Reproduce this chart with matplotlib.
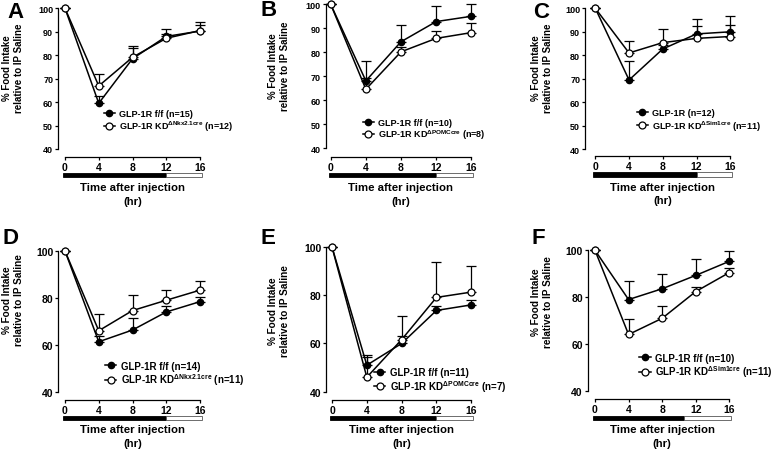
import matplotlib
matplotlib.use('Agg')
import matplotlib.pyplot as plt
from matplotlib.transforms import blended_transform_factory

plt.rcParams['font.family'] = ['Liberation Sans', 'DejaVu Sans']
plt.rcParams['font.weight'] = 'bold'
plt.rcParams['mathtext.fontset'] = 'custom'
plt.rcParams['mathtext.rm'] = 'Liberation Sans'
plt.rcParams['axes.linewidth'] = 0.9

W, H = 774, 452

# data
hours = [0, 4, 8, 12, 16]

a_ff = [100, 59.5, 78.5, 88.0, 90.3]
a_ff_err = [0, 3.0, 4.6, 3.0, 3.9]
a_kd = [100, 66.9, 79.1, 87.2, 90.5]
a_kd_err = [0, 5.1, 4.7, 2.0, 2.4]

b_ff = [100, 68.1, 84.4, 92.8, 95.0]
b_ff_err = [0, 8.2, 7.0, 6.4, 5.2]
b_kd = [100, 64.6, 80.2, 85.8, 88.2]
b_kd_err = [0, 4.9, 2.0, 3.1, 4.0]

c_ff = [100, 69.5, 82.7, 89.1, 90.0]
c_ff_err = [0, 7.9, 1.5, 3.5, 2.9]
c_kd = [100, 81.0, 85.4, 87.2, 88.0]
c_kd_err = [0, 5.0, 5.8, 8.4, 8.9]

d_ff = [100, 61.3, 66.3, 74.0, 78.4]
d_ff_err = [0, 2.3, 5.3, 2.5, 2.0]
d_kd = [100, 66.0, 74.6, 79.0, 83.3]
d_kd_err = [0, 7.3, 6.5, 4.4, 3.8]

e_ff = [100, 51.0, 60.0, 73.7, 76.0]
e_ff_err = [0, 3.3, 3.0, 2.0, 2.0]
e_kd = [100, 46.0, 61.6, 79.1, 81.3]
e_kd_err = [0, 9.4, 9.8, 14.8, 11.0]

f_ff = [100, 79.0, 83.6, 89.3, 95.3]
f_ff_err = [0, 7.7, 6.3, 6.8, 4.2]
f_kd = [100, 64.1, 71.0, 82.4, 90.5]
f_kd_err = [0, 6.6, 5.1, 2.0, 2.0]

ff_labels = ['GLP-1R f/f (n=15)', 'GLP-1R f/f (n=10)', 'GLP-1R (n=12)',
             'GLP-1R f/f (n=14)', 'GLP-1R f/f (n=11)', 'GLP-1R f/f (n=10)']
kd_labels = [r'GLP-1R KD$^{\mathrm{ΔNkx2.1cre}}$ (n=12)',
             r'GLP-1R KD$^{\mathrm{ΔPOMCcre}}$ (n=8)',
             r'GLP-1R KD$^{\mathrm{ΔSim1cre}}$ (n=11)',
             r'GLP-1R KD$^{\mathrm{ΔNkx2.1cre}}$ (n=11)',
             r'GLP-1R KD$^{\mathrm{ΔPOMCcre}}$ (n=7)',
             r'GLP-1R KD$^{\mathrm{ΔSim1cre}}$ (n=11)']
letters = ['A', 'B', 'C', 'D', 'E', 'F']
dark_start = 0
dark_end = [12, 12, 12, 12, 12, 10.6]
light_end = 16

top_yticks = [40, 50, 60, 70, 80, 90, 100]
bottom_yticks = [40, 60, 80, 100]

# layout in pixels: y axis x, x=0, x=16, y=100, y=40, x axis y,
# bar top, bar bottom, time label y, hr y, ylabel x, ylabel y, letter x, letter y, legend x, legend y
layout = [
    (58.0, 65.0, 200.0, 9.3, 150.0, 158.0, 174.0, 178.3, 188.3, 201.7, 13.0, 68.0, 15.0, 12.5, 120.0, 122.0),
    (325.7, 330.7, 471.3, 5.3, 149.3, 158.0, 174.0, 178.3, 188.3, 201.7, 278.7, 66.0, 269.0, 11.0, 378.7, 130.5),
    (585.0, 595.3, 730.3, 9.3, 150.3, 157.3, 173.3, 177.7, 187.7, 201.0, 542.0, 68.0, 541.5, 12.5, 653.0, 121.5),
    (58.3, 65.0, 200.0, 252.0, 392.7, 401.0, 416.5, 420.8, 430.0, 444.0, 13.3, 300.0, 11.0, 238.5, 120.7, 375.0),
    (326.3, 332.0, 471.3, 248.0, 392.7, 401.0, 416.5, 420.8, 430.0, 444.0, 279.0, 311.0, 268.0, 238.5, 389.7, 381.5),
    (587.7, 595.0, 729.3, 251.3, 392.0, 400.0, 416.5, 420.8, 430.0, 444.0, 542.0, 302.0, 538.5, 238.5, 655.3, 367.0),
]


def fx(x):
    return x / W


def fy(y):
    return 1 - y / H


def draw_panel(fig, i, ff, ff_err, kd, kd_err, yticks, small):
    (yax, x0, x16, y100, y40, xaxis, bar_t, bar_b, time_y, hr_y,
     lab_x, lab_y, let_x, let_y, leg_x, leg_y) = layout[i]
    ax = fig.add_axes([fx(yax), fy(y40), fx(x16 - yax), (y40 - y100) / H])
    ax.set_xlim(-16 * (x0 - yax) / (x16 - x0), 16)
    ax.set_ylim(40, 100)
    ax.patch.set_alpha(0)
    for s in ['top', 'right']:
        ax.spines[s].set_visible(False)
    ax.spines['left'].set_bounds(40, 100)
    ax.spines['bottom'].set_bounds(0, 16)
    ax.spines['bottom'].set_position(('outward', (xaxis - y40) * 0.72))
    ax.set_xticks(hours)
    ax.set_yticks(yticks)
    ytick_fs = 6.5 if small else 7.5
    ax.tick_params(axis='y', length=2.5, width=0.9, pad=1, labelsize=ytick_fs)
    ax.tick_params(axis='x', length=2, width=0.9, pad=1.5, labelsize=7.5)

    ax.errorbar(hours, ff, yerr=[[0] * len(ff_err), ff_err], fmt='none', ecolor='black',
                elinewidth=0.9, capsize=3.5, capthick=0.9, clip_on=False, zorder=2)
    ax.errorbar(hours, kd, yerr=[[0] * len(kd_err), kd_err], fmt='none', ecolor='black',
                elinewidth=0.9, capsize=3.5, capthick=0.9, clip_on=False, zorder=2)
    l1, = ax.plot(hours, ff, color='black', lw=1.1, marker='o', ms=4.5, mfc='black',
                  mec='black', clip_on=False, zorder=3)
    l2, = ax.plot(hours, kd, color='black', lw=1.1, marker='o', ms=5, mfc='white',
                  mec='black', mew=0.9, clip_on=False, zorder=4)

    leg_fs = 6.5 if small else 7
    ax.legend([l1, l2], [ff_labels[i], kd_labels[i]], loc='center left',
              bbox_to_anchor=(fx(leg_x - 16), fy(leg_y)), bbox_transform=fig.transFigure,
              frameon=False, borderpad=0, borderaxespad=0, handlelength=1.2,
              handletextpad=0.45, labelspacing=0.1, prop={'size': leg_fs, 'weight': 'bold'})

    # light/dark bar under the x axis
    bar = fig.add_axes([fx(yax), fy(bar_b), fx(x16 - yax), (bar_b - bar_t) / H])
    bar.set_xlim(ax.get_xlim())
    bar.set_ylim(0, 1)
    bar.axis('off')
    bar.barh(0.5, dark_end[i] - dark_start + 0.25, left=dark_start - 0.25, height=1,
             color='black', edgecolor='black', lw=0.6, clip_on=False)
    bar.barh(0.5, light_end - dark_end[i] + 0.25, left=dark_end[i], height=1,
             color='white', edgecolor='#555555', lw=0.6, clip_on=False)

    tr = blended_transform_factory(ax.transData, fig.transFigure)
    ax.text(8, fy(time_y), 'Time after injection', transform=tr, ha='center', va='center',
            fontsize=8.2, fontweight='bold')
    ax.text(8, fy(hr_y), '(hr)', transform=tr, ha='center', va='center',
            fontsize=8.2, fontweight='bold')

    lab_fs = 7.0 if small else 7.2
    fig.text(fx(lab_x), fy(lab_y), '% Food Intake\nrelative to IP Saline', rotation=90,
             ha='center', va='center', multialignment='center', fontsize=lab_fs,
             fontweight='bold', linespacing=1.2)
    fig.text(fx(let_x), fy(let_y), letters[i], ha='center', va='center',
             fontsize=16, fontweight='bold')


fig = plt.figure(figsize=(W / 100, H / 100), dpi=100)
fig.patch.set_facecolor('white')

draw_panel(fig, 0, a_ff, a_ff_err, a_kd, a_kd_err, top_yticks, True)
draw_panel(fig, 1, b_ff, b_ff_err, b_kd, b_kd_err, top_yticks, True)
draw_panel(fig, 2, c_ff, c_ff_err, c_kd, c_kd_err, top_yticks, True)
draw_panel(fig, 3, d_ff, d_ff_err, d_kd, d_kd_err, bottom_yticks, False)
draw_panel(fig, 4, e_ff, e_ff_err, e_kd, e_kd_err, bottom_yticks, False)
draw_panel(fig, 5, f_ff, f_ff_err, f_kd, f_kd_err, bottom_yticks, False)

fig.savefig('out.png', dpi=100)
